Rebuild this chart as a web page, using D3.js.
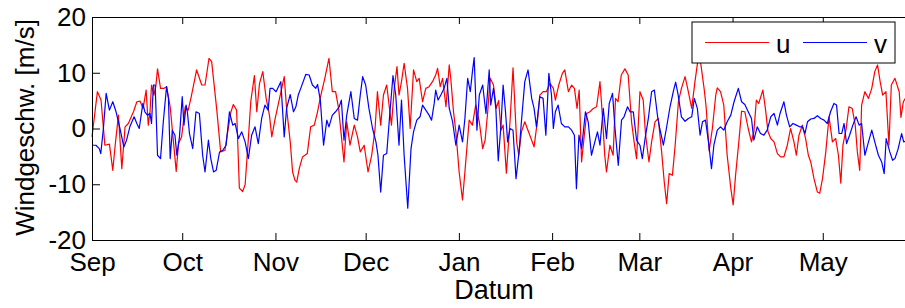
<!DOCTYPE html>
<html>
<head>
<meta charset="utf-8">
<script src="https://cdn.jsdelivr.net/npm/d3@7"></script>
<style>
  body { margin: 0; background: #fff; }
  svg text { font-family: "Liberation Sans", Arial, sans-serif; }
</style>
</head>
<body>
<div id="div_template"></div>
<script>
// days since 1 Sep 2011, value [m/s]
var uData = [[0,-1.5],[1.8,6.6],[3,5.1],[4.3,-3],[5.8,-2.8],[6.9,-7.5],[7.7,-3],[8.8,2.4],[9.9,-7.2],[11,0.3],[12.1,0.9],[13.8,3],[14.9,4.8],[16,4.9],[17,3.6],[18,6.9],[18.7,0.6],[19.3,3],[19.8,7.8],[20.6,6],[21.2,7.5],[21.8,10.7],[22.8,7.2],[24,7.2],[24.8,7.5],[26,3.9],[28,-7.7],[28.8,-2.7],[29.8,-1.5],[31,3.9],[32,3.3],[33,5.7],[34.8,10.5],[36.5,7.8],[37.6,7.8],[38.9,12.6],[39.8,12],[41.5,3.3],[42.8,-4.2],[44.2,-3.9],[45,-1],[46.2,3],[47,4.3],[48.1,3.3],[49,-10.7],[50.1,-11.3],[50.9,-10.1],[52,-1.8],[52.8,4.8],[54,9.5],[54.8,3],[55.7,8.1],[56.8,10.2],[57.9,5.4],[59,2.4],[59.8,-1.5],[60.9,1.8],[62,4.5],[63.1,7.2],[63.9,9.3],[64.7,3.6],[65.9,-2.4],[66.7,-7.8],[67.5,-9.3],[68.1,-9.6],[68.9,-7.2],[70,-5.1],[71.6,-4.5],[72.7,0.3],[73.9,0.6],[75,3],[76,5.7],[77.4,9],[78.8,12.6],[79.9,6.6],[81,6.6],[82,3.6],[83.8,-6],[84.7,1.2],[85.8,-3],[87.2,0.6],[88.3,-1.5],[89.2,-4.2],[90.5,-3],[91.8,-7.8],[93,-4.8],[94.1,-0.3],[94.9,6.6],[96,0.6],[96.9,6],[98,7.8],[99.6,0.6],[100.5,7.2],[101.4,11.1],[102.1,6],[102.9,8.4],[103.8,11.7],[104.9,7.2],[105.8,0],[106.9,10.5],[108,8.4],[108.8,9],[109.9,4.8],[111,7.2],[112.1,7.5],[113.2,8.4],[114.3,9.6],[114.9,10.8],[115.8,7.5],[116.6,9],[117.7,3.9],[118.8,11.4],[119.3,9],[120.2,3],[121,-0.6],[122.1,-7.8],[123.2,-12.8],[124,-7.8],[124.9,-1.8],[125.4,1.5],[126.5,0.6],[127.6,4.2],[128.8,1.2],[129.9,-3.6],[130.7,-2.1],[131.6,3],[132.4,9],[133.5,7.8],[134.4,3.6],[135.2,5],[136,-0.3],[136.7,0.6],[137.8,-8],[139,1.2],[140,10.9],[141.2,-2.4],[141.9,-4.8],[142.8,-0.6],[143.9,1.2],[145.6,-1.2],[147,-3.3],[148.2,1.8],[148.9,6],[150,6.6],[151.1,6.6],[152.3,8.1],[153.4,7.2],[154.1,5.1],[155.2,7.8],[156.4,9.9],[157.2,10.5],[158.4,6.6],[159.5,7.8],[160.4,7.2],[161.3,3.6],[162,6.9],[162.8,-6],[163.7,-1.2],[164.5,2.7],[165.6,3],[166.7,3.6],[167.8,3.9],[168.9,8.4],[169.7,2.4],[170.5,-4.8],[171.1,-7.8],[172.2,-3],[173.3,-4.8],[174.1,5.4],[174.9,4.8],[176,9.6],[177.2,10.7],[178.3,9.6],[179.4,1.2],[180.4,-3],[181.1,-5.4],[182.2,6.6],[183.3,5.1],[184.1,-1.2],[185.2,-6],[186.1,-2.4],[187.2,1.2],[188.3,1.8],[189.4,-4.2],[190.3,-9.6],[191.1,-13.5],[191.9,-8.1],[193,-8.4],[193.9,-3],[195,4.8],[196,7.2],[197.2,9.3],[198.3,6.6],[199.4,3.6],[200.5,8.4],[201.4,12],[201.9,13.5],[202.6,11],[203.6,7],[204.2,3.9],[205.2,-4],[206.3,0],[207.4,6],[207.9,7.3],[209,6.6],[210.1,4.2],[211.2,-4.8],[212.4,-10.7],[213.2,-13.7],[214,-8.4],[215.1,-2.4],[216,3.1],[217.1,3],[218.2,0],[219.3,-2.4],[220.1,-0.6],[220.9,5.1],[221.7,4.5],[223.1,6.9],[223.9,3.6],[224.8,-0.6],[225.7,-1.8],[226.8,-2.4],[227.9,-4.5],[229,-5.1],[230.1,-5.1],[231.2,-3],[232.3,0],[233.4,-2.4],[234.2,-4.8],[235.1,-1.2],[236.2,0.6],[237.3,-1.8],[238.2,-4.8],[239,-6],[240.1,-9],[241.2,-11.4],[242,-11.6],[242.9,-9],[244,-4.2],[245.1,2.1],[246.2,-2.4],[247.3,-1.8],[248.2,-4.8],[249,-9.8],[249.7,-3],[250.8,0],[251.7,3.9],[252.8,3.6],[253.8,0.6],[254.5,-4.2],[255.3,-7.5],[255.9,4.2],[257,6.6],[258.2,5.4],[259.3,7.2],[260.3,10.2],[261.2,11.4],[262.1,8.4],[262.9,6],[264,6.6],[265,-3],[265.8,7.8],[267,9],[268.4,6.6],[269,2],[269.8,4.8],[270.6,5.5]];

var vData = [[0,-3],[1.3,-3],[2.4,-3.6],[2.9,-4.5],[3.8,0],[4.7,6.3],[5.8,3.3],[6.9,4.8],[8,3],[9.3,0],[10.6,-3.3],[11.5,-2.1],[12.6,0.3],[14,2.1],[14.9,0.9],[15.7,0],[16.9,4.5],[17.6,3],[18.4,2.4],[19.3,2.7],[19.8,0.9],[20.4,7.8],[21,7.8],[21.8,-4.8],[22.8,-5.4],[23.7,1.2],[24.8,7.5],[25.4,5.4],[26,-5.4],[26.7,-0.3],[27.6,-1.2],[28.2,-4.8],[29.1,-1.5],[30,5.7],[30.6,0.6],[31.3,4.2],[31.7,3],[32.4,-0.9],[33.5,-3.6],[34.6,3],[35.7,2.7],[36.8,-4.8],[37.6,-7.8],[38.7,-2.1],[39.5,-5.4],[40.4,-7.8],[41.3,-7.5],[42.4,-4.2],[43.5,-3.9],[44.6,-3],[45.7,3],[46.8,0.6],[47.6,0.9],[48.7,-1.8],[49.8,-0.6],[50.9,-2.4],[52,-5.4],[53.1,-1.2],[54.2,0.3],[55.3,-2.7],[56.4,1.8],[57.5,4.2],[58.6,3.3],[59.2,7.2],[60.1,7.2],[61.2,6.6],[62,7.5],[62.8,8.4],[63.9,-1.5],[64.7,3.6],[65.9,6.1],[67,3],[67.8,3.9],[68.6,6],[69.4,7.2],[71.1,9.7],[72.2,9.6],[73.3,7.8],[74.4,7.2],[75,7.9],[75.9,5.1],[77,-3],[78.1,1.5],[78.8,0.3],[79.9,2.4],[81,3],[82.2,3.9],[82.9,5.1],[83.8,-2.1],[84.7,2.4],[86.1,6.6],[87.2,1.8],[88.3,1.5],[89.2,6],[90,9.3],[91,7.8],[92.1,3.6],[93.3,0],[94.4,-2.4],[95.1,-4.8],[96,-11.4],[96.9,-4.8],[98,-4.5],[99.1,3],[100.1,9.5],[101,6],[102.1,-3],[102.9,5.1],[103.8,-4.8],[105,-14.3],[106.1,-3.6],[106.9,-0.6],[108,1.5],[109.1,2.1],[109.9,4.2],[111,3.3],[112.1,2.4],[112.9,1.5],[113.8,4.5],[114.3,6.9],[115.1,5.1],[116,6],[117.1,7.2],[118,9],[118.8,3.6],[119.9,1.2],[121,-3],[122.1,0.6],[123.2,-2.4],[124,1.8],[124.9,9],[125.8,6.6],[126.5,10.2],[127.1,12.7],[128,-0.3],[128.8,6],[129.9,7.8],[131,2.7],[132.1,10.5],[132.6,4.2],[133.5,7.2],[134.3,3.6],[135.1,-5.8],[136,0.6],[136.7,7.8],[137.5,3],[138.2,-2.4],[139,0],[140,-0.3],[141,-9],[142,-4.2],[142.8,1.2],[143.9,8.4],[145,10.5],[146.2,5.4],[147,3.6],[147.8,0.3],[148.9,5.7],[150,5.4],[150.9,-1.2],[151.9,9.9],[152.8,6],[153.4,0],[154.1,3],[155,4.2],[156.1,0.9],[157.2,0.3],[158.4,0.3],[159.5,-0.3],[160.4,-1.2],[161.1,-10.8],[161.9,-1.2],[162.8,-3.6],[164.1,3],[165,1.2],[166.1,-4.8],[167.2,-2.4],[168.1,-0.6],[168.9,-3],[170,3.6],[171.1,-1.8],[172,4.5],[173.1,6.3],[173.9,0],[175,-6.6],[176.1,1.5],[176.9,2.1],[178.1,3.9],[178.9,3],[180,3],[181.1,-2.1],[182.2,-3],[183,-5.4],[183.9,-1.8],[185,1.8],[186.1,6.6],[187,6.9],[188.1,2.1],[188.8,0],[190,-3],[191,0],[192.2,3.9],[193.3,6.6],[194.1,8.3],[194.9,6],[196,2.1],[197.2,1.3],[198.3,1.8],[199.4,2.1],[200.3,5.4],[201.3,3.6],[202.2,-1.2],[203,1.2],[204,1.5],[205,-2.4],[206,-7.2],[206.8,-3],[207.9,-0.3],[209,0.3],[210.1,-0.3],[211.2,1.2],[212.4,2.4],[213.5,4.8],[214.9,7.2],[216,4.8],[217.1,4.3],[218.2,3],[219.3,1.8],[220.1,-2.1],[221.2,0.3],[222.3,-0.9],[223.4,-1.2],[224.5,-0.3],[225.7,2.1],[226.8,2.7],[227.9,0.6],[228.8,2.7],[230.1,4.8],[230.9,2.4],[232,0.3],[233.1,0.9],[234.2,0.6],[235.3,0.3],[236.2,0.3],[237.1,-0.9],[237.9,1.2],[239,1.7],[240.1,1.8],[241.2,2.3],[242.3,1.8],[243.4,1.5],[244.5,0.9],[245.6,3],[246.7,4.5],[247.6,4.2],[248.4,-0.9],[249.3,-0.9],[250.1,0.9],[250.9,-2.7],[251.9,-1.2],[253,0.6],[254.1,2.1],[255.1,0.6],[255.9,0.9],[257,-4.8],[258.2,-2.4],[259.3,-0.3],[260.3,-2.4],[261.5,-4.8],[262.6,-6],[263.4,-8.1],[264.1,-1.8],[265.3,-4.2],[266.2,-5.7],[267,-5.4],[268.1,-3.6],[269.2,-0.9],[269.9,-2.4],[271,-2.2]];

var yTicks = [-20, -10, 0, 10, 20];
var monthLabels = ["Sep", "Oct", "Nov", "Dec", "Jan", "Feb", "Mar", "Apr", "May"];
var seriesNames = ["u", "v"];
var seriesColors = ["#ff0000", "#0000ff"];

var startDate = new Date(2011, 8, 1);
var endDate = new Date(2012, 5, 1);

function toDate(d) {
  return d3.timeHour.offset(startDate, Math.round(d * 24));
}

// *****************************************************************************
// dimensions
// *****************************************************************************

var margin = { top: 17, left: 92 },
  width = 824,
  height = 223;

var svg = d3
  .select("#div_template")
  .append("svg")
  .attr("width", 905)
  .attr("height", 308)
  .append("g")
  .attr("transform", "translate(" + margin.left + "," + margin.top + ")");

svg
  .append("rect")
  .attr("x", -margin.left)
  .attr("y", -margin.top)
  .attr("width", 905)
  .attr("height", 308)
  .attr("fill", "white");

// *****************************************************************************
// scales
// *****************************************************************************

var x = d3.scaleTime().domain([startDate, endDate]).range([0, width]);
var y = d3.scaleLinear().domain([-20, 20]).range([height, 0]);

var monthTicks = d3.timeMonth.range(startDate, d3.timeMonth.offset(startDate, 9));

// *****************************************************************************
// lines
// *****************************************************************************

var line = d3
  .line()
  .x(function (d) {
    return x(toDate(d[0]));
  })
  .y(function (d) {
    return y(d[1]);
  });

[uData, vData].forEach(function (data, i) {
  svg
    .append("path")
    .datum(data)
    .attr("fill", "none")
    .attr("stroke", seriesColors[i])
    .attr("stroke-width", 1.2)
    .attr("stroke-linejoin", "round")
    .attr("d", line);
});

// *****************************************************************************
// axes
// *****************************************************************************

svg
  .append("g")
  .attr("transform", "translate(0," + height + ")")
  .call(
    d3
      .axisBottom(x)
      .tickValues(monthTicks)
      .tickSizeInner(-7)
      .tickSizeOuter(0)
      .tickPadding(13)
      .tickFormat(function (d, i) {
        return monthLabels[i];
      })
  );

svg
  .append("g")
  .call(
    d3.axisTop(x).tickValues(monthTicks).tickSizeInner(-7).tickSizeOuter(0).tickFormat("")
  );

// plain hyphen as in the original, not the unicode minus
svg
  .append("g")
  .call(
    d3
      .axisLeft(y)
      .tickValues(yTicks)
      .tickSizeInner(-8)
      .tickSizeOuter(0)
      .tickPadding(6)
      .tickFormat(function (d) {
        return String(d);
      })
  );

svg
  .append("g")
  .attr("transform", "translate(" + width + ",0)")
  .call(d3.axisRight(y).tickValues(yTicks).tickSizeInner(-8).tickSizeOuter(0).tickFormat(""));

svg.selectAll(".domain").attr("stroke", "#000").attr("stroke-width", 1);
svg.selectAll(".tick line").attr("stroke", "#000");
svg
  .selectAll(".tick text")
  .attr("fill", "#000")
  .style("font-size", "26px")
  .style("font-family", "'Liberation Sans', Arial, sans-serif");

// *****************************************************************************
// titles
// *****************************************************************************

svg
  .append("text")
  .attr("text-anchor", "middle")
  .attr("x", 402)
  .attr("y", 282)
  .style("font-size", "27px")
  .text("Datum");

svg
  .append("text")
  .attr("text-anchor", "middle")
  .attr("transform", "translate(-58," + (height / 2 - 1) + ") rotate(-90)")
  .style("font-size", "26px")
  .text("Windgeschw. [m/s]");

// *****************************************************************************
// legend
// *****************************************************************************

var legend = svg.append("g").attr("transform", "translate(600,5)");

legend
  .append("rect")
  .attr("width", 203)
  .attr("height", 41)
  .attr("fill", "white")
  .attr("stroke", "#000")
  .attr("stroke-width", 1);

seriesNames.forEach(function (name, i) {
  var g = legend.append("g").attr("transform", "translate(" + (13 + i * 98) + ",20.5)");
  g.append("line")
    .attr("x1", 0)
    .attr("x2", 64)
    .attr("stroke", seriesColors[i])
    .attr("stroke-width", 1.2);
  g.append("text")
    .attr("x", 71)
    .attr("y", 10)
    .style("font-size", "26px")
    .text(name);
});
</script>
</body>
</html>
